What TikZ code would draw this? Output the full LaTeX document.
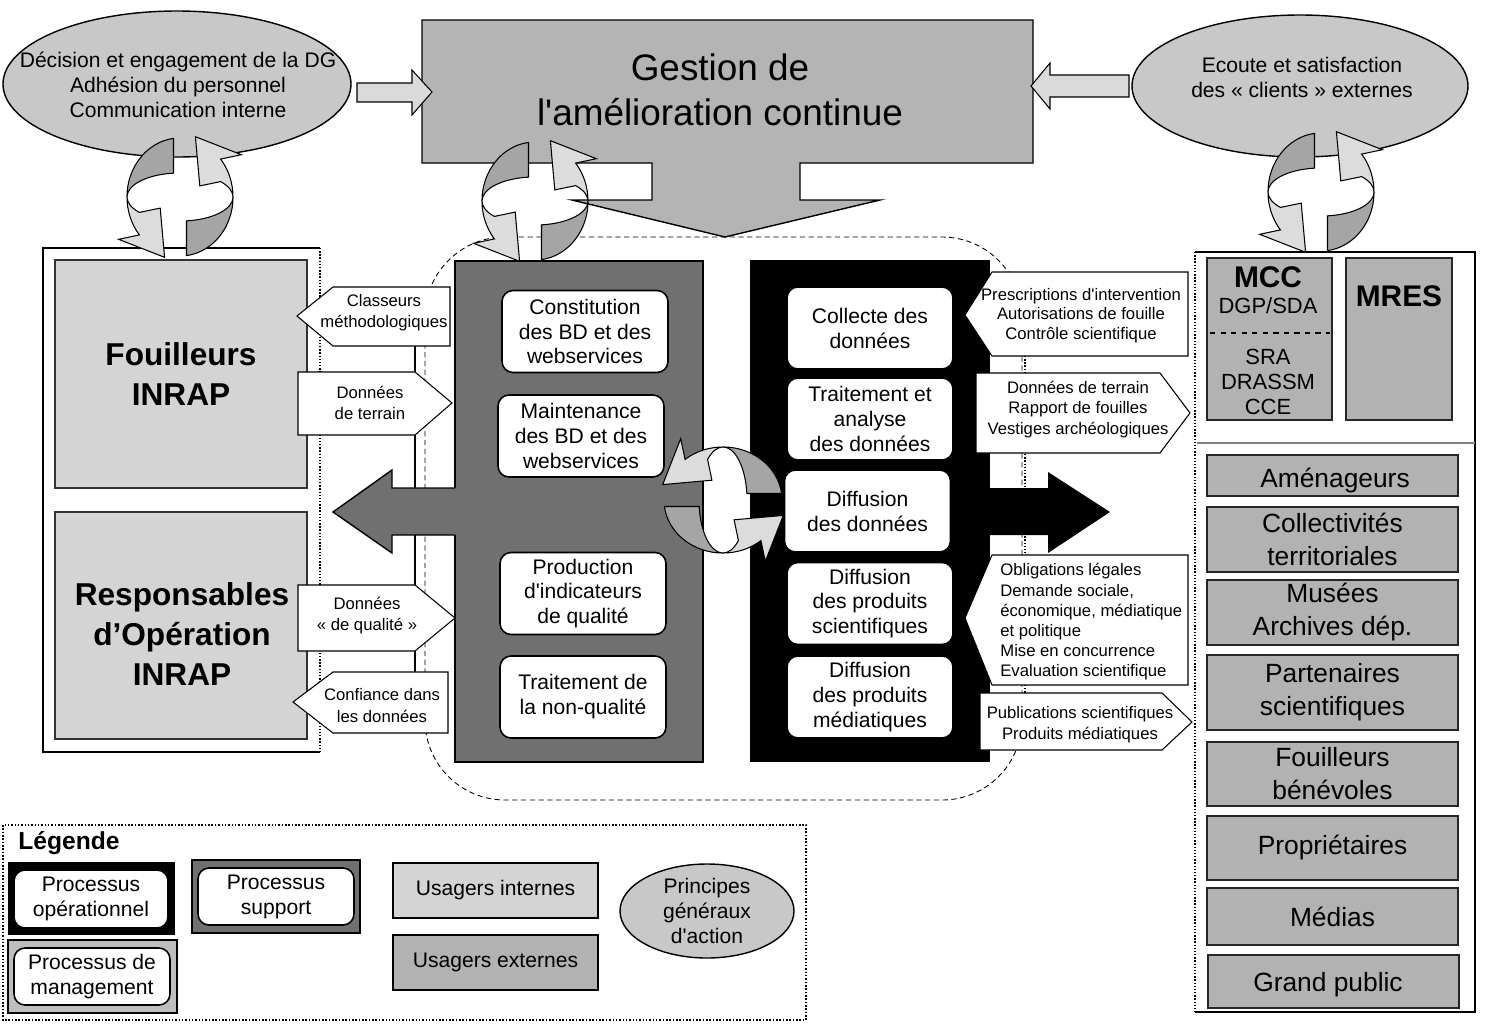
\documentclass[tikz,border=0pt]{standalone}
\usepackage{fontspec}
\setmainfont{Liberation Sans}
\usetikzlibrary{shapes.geometric}
\definecolor{usInt}{RGB}{212,212,212}
\definecolor{usExt}{RGB}{178,178,178}
\definecolor{princ}{RGB}{200,200,200}
\definecolor{mgmt}{RGB}{180,180,180}
\definecolor{supp}{RGB}{112,112,112}
\definecolor{cycD}{RGB}{165,165,165}
\definecolor{cycL}{RGB}{220,220,220}
\definecolor{arrL}{RGB}{218,218,218}
\definecolor{legMg}{RGB}{190,190,190}

\begin{document}
\begin{tikzpicture}[x=0.02cm,y=-0.02cm,
  tS/.style={font=\fontsize{9.5}{12}\selectfont,align=center,inner sep=0pt},
  tM/.style={font=\fontsize{12}{14.2}\selectfont,align=center,inner sep=0pt},
  tL/.style={font=\fontsize{15}{18.8}\selectfont,align=center,inner sep=0pt},
  tB/.style={font=\fontsize{18}{22.8}\selectfont\bfseries,align=center,inner sep=0pt},
  tG/.style={font=\fontsize{21}{25.6}\selectfont,align=center,inner sep=0pt},
  proc/.style={draw,fill=white,rounded corners=0.22cm,line width=0.9pt,minimum width=3.32cm,minimum height=1.64cm,
    font=\fontsize{12}{14.2}\selectfont,align=center,inner sep=0pt},
  usbox/.style={draw=black!85,fill=usExt,line width=0.9pt,minimum width=5.02cm,
    font=\fontsize{15}{18.8}\selectfont,align=center,inner sep=0pt},
  flag/.style={draw,fill=white,line width=0.6pt},
  barrow/.style={draw,fill=arrL,line width=0.6pt},
  cyc/.pic={
    \draw[fill=cycD,line width=0.6pt] (-6.5,-58.6) arc[start angle=-97,end angle=-180,x radius=53,y radius=59]
      arc[start angle=-180,end angle=-97,x radius=53,y radius=24] -- cycle;
    \draw[fill=cycD,line width=0.6pt] (6.5,58.6) arc[start angle=-277,end angle=-360,x radius=53,y radius=59]
      arc[start angle=-360,end angle=-277,x radius=53,y radius=24] -- cycle;
    \draw[fill=cycL,line width=0.6pt] (53,0) arc[start angle=0,end angle=-40,x radius=53,y radius=59]
      -- (61.4,-42.3) -- (15.4,-60.3) -- (19.8,-11.1) -- (40.6,-15.4)
      arc[start angle=-40,end angle=0,x radius=53,y radius=24] -- cycle;
    \draw[fill=cycL,line width=0.6pt] (-53,0) arc[start angle=-180,end angle=-220,x radius=53,y radius=59]
      -- (-61.4,42.3) -- (-15.4,60.3) -- (-19.8,11.1) -- (-40.6,15.4)
      arc[start angle=-220,end angle=-180,x radius=53,y radius=24] -- cycle;
  }]
\useasboundingbox (0,0) rectangle (1492,1025);
\fill[white] (0,0) rectangle (1492,1025);

% process area
\draw[densely dashed,line width=0.5pt,rounded corners=1.6cm] (425,237) rectangle (1022,800);

% management
\draw[line width=0.8pt,fill=mgmt] (422,20) -- (1033,20) -- (1033,163) -- (800,163) -- (800,200) -- (880,200)
  -- (725,237) -- (572,200) -- (652,200) -- (652,163) -- (422,163) -- cycle;
\node[tG] (gestion) at (720,90) {Gestion de\\l\textquotesingle amélioration continue};

\draw[fill=princ,line width=0.8pt] (177,84) ellipse [x radius=174,y radius=73];
\node[tM] (decision) at (178,85) {Décision et engagement de la DG\\Adhésion du personnel\\Communication interne};
\draw[fill=princ,line width=0.8pt] (1300,86) ellipse [x radius=168,y radius=71];
\node[tM] (ecoute) at (1302,77.5) {Ecoute et satisfaction\\des « clients » externes};

\draw[barrow] (357,83) -- (412,83) -- (412,70) -- (432,92) -- (412,115) -- (412,102) -- (357,102) -- cycle;
\draw[barrow] (1129,75) -- (1050,75) -- (1050,63) -- (1031,86) -- (1050,109) -- (1050,97) -- (1129,97) -- cycle;

% usagers internes
\draw[line width=0.8pt] (320,248) -- (43,248) -- (43,752) -- (320,752);
\draw[densely dotted,line width=0.8pt] (320,248) -- (320,752);
\node[draw=black!80,line width=0.9pt,fill=usInt,minimum width=5.04cm,minimum height=4.56cm,tB] (fouilleurs) at (181,374) {Fouilleurs\\INRAP};
\node[draw=black!80,line width=0.9pt,fill=usInt,minimum width=5.04cm,minimum height=4.54cm] (respOp) at (181,625.5) {};
\node[tB] (respTxt) at (182,634) {Responsables\\d’Opération\\INRAP};

% usagers externes
\draw[line width=0.8pt] (1195,252) -- (1475,252) -- (1475,1012) -- (1195,1012);
\draw[densely dotted,line width=0.8pt] (1195,252) -- (1195,1012);
\draw[gray,line width=1pt] (1197,443) -- (1475,443);
\node[usbox,minimum width=2.5cm,minimum height=3.24cm] (mcc) at (1269.5,339) {};
\node[font=\fontsize{17}{20}\selectfont\bfseries] (mccT) at (1268,277) {MCC};
\node[font=\fontsize{12.5}{14.5}\selectfont] (dgp) at (1268,306) {DGP/SDA};
\draw[dashed,line width=1pt] (1210,333) -- (1330,333);
\node[font=\fontsize{12.5}{14}\selectfont,align=center,inner sep=0pt] (sra) at (1268,382) {SRA\\DRASSM\\CCE};
\node[usbox,minimum width=2.12cm,minimum height=3.24cm] (mres) at (1399,339) {};
\node[font=\fontsize{17}{20}\selectfont\bfseries] (mresT) at (1399,296) {MRES};
\node[usbox,minimum height=0.82cm] (amen) at (1332.5,475.5) {};
\node[tL] (amenT) at (1335,481) {Aménageurs};
\node[usbox,minimum height=1.3cm] (collec) at (1332.5,539.5) {Collectivités\\territoriales};
\node[usbox,minimum height=1.3cm] (musees) at (1332.5,612.5) {Musées\\Archives dép.};
\node[usbox,minimum height=1.5cm] (parten) at (1332.5,692.5) {Partenaires\\scientifiques};
\node[usbox,minimum height=1.28cm] (benev) at (1332.5,774) {Fouilleurs\\bénévoles};
\node[usbox,minimum height=1.28cm] (proprio) at (1332.5,848) {Propriétaires};
\node[usbox,minimum height=1.14cm] (medias) at (1332.5,916.5) {Médias};
\node[usbox,minimum height=1.06cm] (public) at (1333.5,981.5) {};
\node[tL] (publicT) at (1328,985) {Grand public};

% liaisons
\draw[line width=0.8pt] (415,346) -- (415,672);
\draw[densely dotted,line width=0.8pt] (1025,356) -- (1025,693);

% processus support et operationnels
\draw[line width=0.8pt,fill=supp] (455,261) rectangle (703,762);
\fill[supp] (458,488) -- (392,488) -- (392,470) -- (333,512) -- (392,553) -- (392,535) -- (458,535) -- cycle;
\draw[line width=0.8pt] (455,488) -- (392,488) -- (392,470) -- (333,512) -- (392,553) -- (392,535) -- (455,535);
\fill[black] (750,260) rectangle (990,762);
\fill[black] (985,488) -- (1048,488) -- (1048,472) -- (1110,512) -- (1048,553) -- (1048,535) -- (985,535) -- cycle;

\node[proc] (constBD) at (585,331.5) {Constitution\\des BD et des\\webservices};
\node[proc] (maintBD) at (581,436) {Maintenance\\des BD et des\\webservices};
\node[proc] (prodInd) at (583,593.5) {Production\\d\textquotesingle indicateurs\\de qualité};
\node[proc] (nonQual) at (583,697) {Traitement de\\la non-qualité};

\node[proc] (collecte) at (870,328) {Collecte des\\données};
\node[proc] (traitDon) at (870,419) {Traitement et\\analyse\\des données};
\node[proc] (diffDon) at (867.5,511) {Diffusion\\des données};
\node[proc] (diffSci) at (870,603.5) {Diffusion\\des produits\\scientifiques};
\node[proc] (diffMed) at (870,697) {Diffusion\\des produits\\médiatiques};

% fleches d'echange
\draw[flag] (333,287) -- (450,287) -- (450,346) -- (333,346) -- (297,316) -- cycle;
\node[tS] (classeurs) at (384,312.5) {Classeurs\\méthodologiques};
\draw[flag] (298,372) -- (415,372) -- (452,403) -- (415,435) -- (298,435) -- cycle;
\node[tS] (donTerrain) at (370,402.5) {Données\\de terrain};
\draw[flag] (298,585) -- (415,585) -- (455,618) -- (415,651) -- (298,651) -- cycle;
\node[tS] (donQual) at (367,615.5) {Données\\« de qualité »};
\draw[flag] (333,672) -- (448,672) -- (448,733) -- (333,733) -- (293,702) -- cycle;
\node[tS] (confiance) at (382,705.5) {Confiance dans\\les données};

\draw[flag] (992,272) -- (1188,272) -- (1188,356) -- (992,356) -- (965,315) -- cycle;
\node[tS,font=\fontsize{9.5}{11.2}\selectfont] (prescr) at (1081,315.5) {Prescriptions d\textquotesingle intervention\\Autorisations de fouille\\Contrôle scientifique};
\draw[flag] (976,373) -- (1160,373) -- (1190,413) -- (1160,453) -- (976,453) -- cycle;
\node[tS,font=\fontsize{9.5}{11.5}\selectfont] (donFouille) at (1078,409.5) {Données de terrain\\Rapport de fouilles\\Vestiges archéologiques};
\draw[flag] (992,555) -- (1188,555) -- (1188,685) -- (992,685) -- (965,618) -- cycle;
\node[tS,font=\fontsize{9.5}{11.5}\selectfont,align=left,anchor=west] (oblig) at (1000,622) {Obligations légales\\Demande sociale,\\économique, médiatique\\et politique\\Mise en concurrence\\Evaluation scientifique};
\draw[flag] (980,693) -- (1162,693) -- (1192,722) -- (1162,750) -- (980,750) -- cycle;
\node[tS] (publi) at (1080,724.5) {Publications scientifiques\\Produits médiatiques};

% boucles
\pic at (180,197) {cyc};
\pic at (535,201) {cyc};
\pic at (1321,192) {cyc};
\pic[rotate=90] at (723,500) {cyc};

% legende
\draw[densely dotted,line width=0.9pt] (3,825) rectangle (806,1020);
\node[font=\fontsize{14}{16}\selectfont\bfseries,anchor=west,inner sep=0pt] (legende) at (18,843) {Légende};
\fill[black] (8,862) rectangle (175,935);
\node[proc,minimum width=3.08cm,minimum height=1.16cm] (legOp) at (91,899) {Processus\\opérationnel};
\draw[fill=legMg,line width=0.8pt] (8,940) rectangle (177,1013);
\node[proc,minimum width=3.12cm,minimum height=1.14cm] (legMg) at (92,976.5) {Processus de\\management};
\draw[fill=supp,line width=0.8pt] (192,860) rectangle (360,933);
\node[proc,minimum width=3.12cm,minimum height=1.14cm] (legSup) at (276,896.5) {Processus\\support};
\node[draw,line width=0.8pt,fill=usInt,minimum width=4.1cm,minimum height=1.1cm,tM] (legInt) at (495.5,890.5) {Usagers internes};
\node[draw,line width=0.8pt,fill=usExt,minimum width=4.1cm,minimum height=1.1cm,tM] (legExt) at (495.5,962.5) {Usagers externes};
\draw[fill=princ,line width=0.8pt] (707,911) ellipse [x radius=87,y radius=47];
\node[tM] (legPr) at (707,911) {Principes\\généraux\\d\textquotesingle action};
\end{tikzpicture}
\end{document}
